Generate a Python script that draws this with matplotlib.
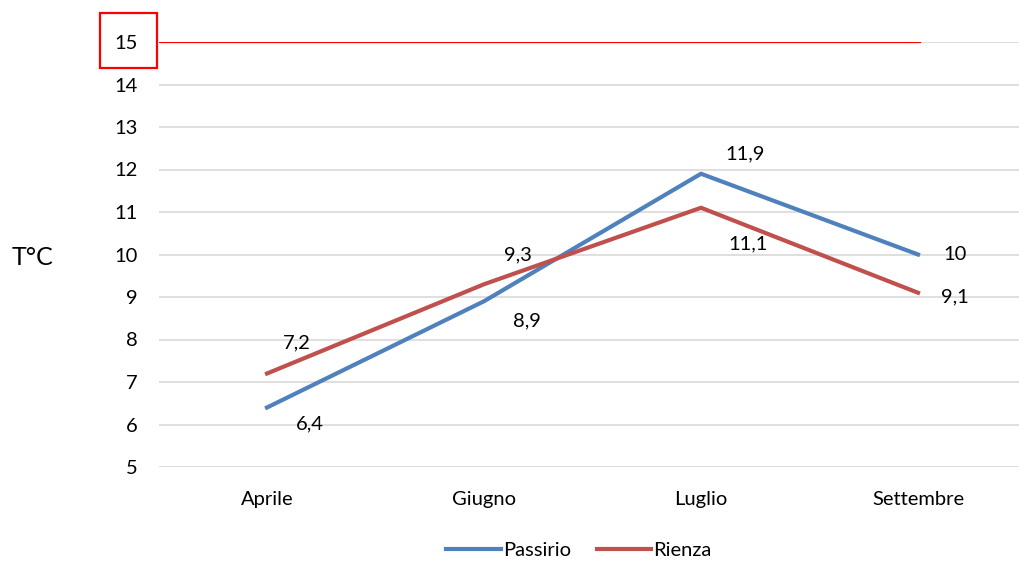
import matplotlib.pyplot as plt
from matplotlib.patches import Rectangle

plt.rcParams["font.family"] = ["Lato", "DejaVu Sans"]

mesi = ["Aprile", "Giugno", "Luglio", "Settembre"]
passirio = [6.4, 8.9, 11.9, 10.0]
rienza = [7.2, 9.3, 11.1, 9.1]
soglia = 15

# pixel offsets for the data labels
off_passirio = [(43, -16), (43, -20), (44, 20), (37, 0)]
off_rienza = [(30, 31), (34, 29), (47, -36), (37, -4)]


def fmt(v):
    s = f"{v:.1f}".replace(".", ",")
    return s[:-2] if s.endswith(",0") else s


fig = plt.figure(figsize=(10.19, 5.63), dpi=100)
ax = fig.add_axes([158.5 / 1019, 96 / 563, 868 / 1019, 425 / 563])

x = list(range(len(mesi)))
blu = "#4F81BD"
rosso = "#C0504D"
fs = 14.5

ax.plot([-0.5, 3.01], [soglia, soglia], color="#FF0000", lw=1.6, zorder=3)
ax.plot(x, passirio, color=blu, lw=3, label="Passirio", zorder=4)
ax.plot(x, rienza, color=rosso, lw=3, label="Rienza", zorder=4)

for xi, v, o in zip(x, passirio, off_passirio):
    ax.annotate(fmt(v), (xi, v), xytext=o, textcoords="offset pixels",
                ha="center", va="center", fontsize=fs)
for xi, v, o in zip(x, rienza, off_rienza):
    ax.annotate(fmt(v), (xi, v), xytext=o, textcoords="offset pixels",
                ha="center", va="center", fontsize=fs)

ax.set_xlim(-0.5, 3.5)
ax.set_ylim(5, 15)
ax.set_yticks(range(5, 16))
ax.set_xticks(x)
ax.set_xticklabels(mesi)
ax.tick_params(length=0, labelsize=fs)
ax.tick_params(axis="y", pad=15)
ax.tick_params(axis="x", pad=17)
ax.grid(axis="y", color="#D9D9D9", lw=1.2)
ax.set_axisbelow(True)
for s in ax.spines.values():
    s.set_visible(False)

fig.text(33 / 1019, 1 - 258 / 563, "T°C", ha="center", va="center", fontsize=18)

fig.patches.append(Rectangle((100 / 1019, 1 - 68 / 563), 57 / 1019, 55 / 563,
                             transform=fig.transFigure, fill=False,
                             edgecolor="#FF0000", lw=1.6))

fig.legend(loc="center", bbox_to_anchor=(579 / 1019, 1 - 550 / 563), ncol=2,
           frameon=False, fontsize=fs, handlelength=2.7, handletextpad=0.1,
           columnspacing=1.3)

fig.savefig("out.png", dpi=100)
